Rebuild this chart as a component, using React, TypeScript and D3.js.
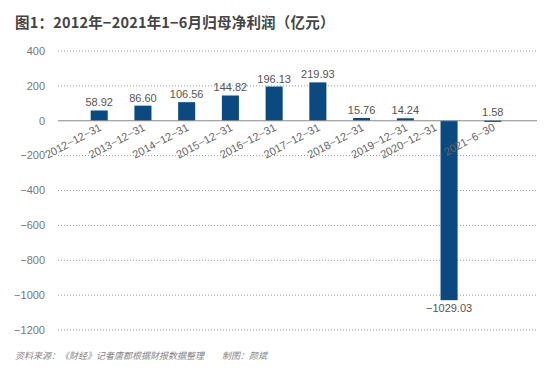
import * as d3 from 'd3';

const categories = [
  '2012-12-31', '2013-12-31', '2014-12-31', '2015-12-31', '2016-12-31',
  '2017-12-31', '2018-12-31', '2019-12-31', '2020-12-31', '2021-6-30',
];
const values = [58.92, 86.6, 106.56, 144.82, 196.13, 219.93, 15.76, 14.24, -1029.03, 1.58];
const yTicks = [400, 200, 0, -200, -400, -600, -800, -1000, -1200];

const title = '图1：2012年−2021年1−6月归母净利润（亿元）';
const source = '资料来源：《财经》记者唐郡根据财报数据整理　　制图：颜斌';

const WIDTH = 550;
const HEIGHT = 374;
const GRID = { left: 58, right: 537 };
const BAR_COLOR = '#0b4a80';
const FONT = '"Liberation Sans", Arial, "Noto Sans CJK SC", sans-serif';

export default function App() {
  const yScale = d3.scaleLinear().domain([-1200, 400]).range([330, 51]);
  const xScale = d3.scaleBand().domain(categories).range([64, 528]).padding(0.61);

  const zeroY = yScale(0);

  return (
    <svg
      width={WIDTH}
      height={HEIGHT}
      style={{ position: 'absolute', left: 0, top: 0, background: '#fff' }}
      fontFamily={FONT}
    >
      <text x={15} y={28} fontSize={14.5} fontWeight="bold" fill="#444" letterSpacing={0.2}
        fontFamily='"Noto Sans CJK SC", sans-serif'>
        {title}
      </text>

      {yTicks.map((t) => (
        <g key={t}>
          {t !== 0 && (
            <line x1={GRID.left} x2={GRID.right} y1={yScale(t)} y2={yScale(t)}
              stroke="#999" strokeWidth={1} strokeDasharray="1,2" />
          )}
          <text x={45} y={yScale(t)} dy="0.35em" textAnchor="end" fontSize={11} fill="#777">
            {t === 0 ? '0' : String(t).replace('-', '−')}
          </text>
        </g>
      ))}

      {values.map((v, i) => {
        const x = xScale(categories[i]) ?? 0;
        const cx = x + xScale.bandwidth() / 2;
        const y0 = yScale(Math.max(0, v));
        const y1 = yScale(Math.min(0, v));
        return (
          <g key={i}>
            <rect x={x} y={y0} width={xScale.bandwidth()} height={Math.max(1.5, y1 - y0)}
              fill={BAR_COLOR} />
            <text x={cx} y={v >= 0 ? y0 - 4 : y1 + 12} textAnchor="middle" fontSize={11} fill="#555">
              {v < 0 ? '−' + Math.abs(v).toFixed(2) : v.toFixed(2)}
            </text>
          </g>
        );
      })}

      <line x1={GRID.left} x2={GRID.right} y1={zeroY} y2={zeroY} stroke="#888" strokeWidth={1.2} />

      {categories.map((c, i) => {
        const x = xScale(c) ?? 0;
        // labels of negative bars sit left of the bar
        const ax = values[i] < 0 ? x - 3 : x + xScale.bandwidth() / 2 + 3;
        return (
          <text key={c} transform={`translate(${ax},${zeroY + 9}) rotate(-28)`}
            textAnchor="end" fontSize={11} fill="#666">
            {c.replace(/-/g, '−')}
          </text>
        );
      })}

      <text x={15} y={359} fontSize={9} fill="#888" fontStyle="italic"
        fontFamily='"Noto Sans CJK SC", sans-serif'>
        {source}
      </text>
    </svg>
  );
}
